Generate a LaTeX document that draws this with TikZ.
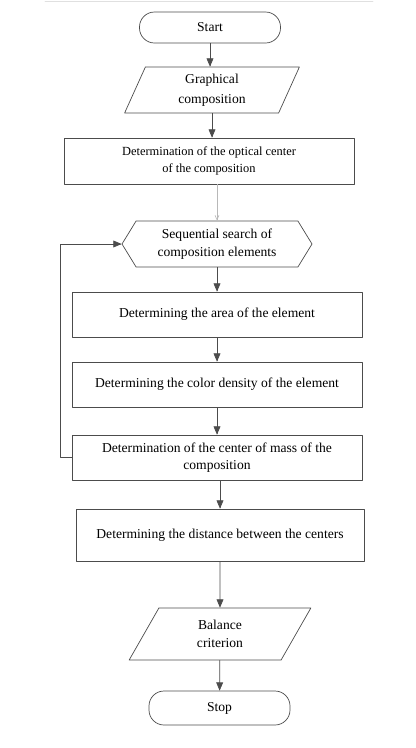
\documentclass[tikz,border=0pt]{standalone}
\usepackage{fontspec}
\setmainfont{Liberation Serif}
\usepackage{tikz}
\usetikzlibrary{calc}
\usetikzlibrary{arrows}
\usetikzlibrary{shapes.geometric,shapes.symbols}
\definecolor{wwwwww}{rgb}{0.3,0.3,0.3}
\definecolor{cccccc}{rgb}{0.72,0.72,0.72}
\definecolor{eeeeee}{rgb}{0.88,0.88,0.88}
\tikzstyle{every node}=[font=\fontsize{11.6}{15.5}\selectfont]
\tikzstyle{block}=[draw=wwwwww,line width=0.6pt,rectangle,align=center,inner sep=0pt]
\tikzstyle{term}=[block,rounded corners=0.45cm,minimum width=4.23cm]
\tikzstyle{io}=[block,trapezium,trapezium stretches=true]
\tikzstyle{loopsign}=[block,signal,signal to=west and east,signal pointer angle=117]
\tikzstyle{line}=[->,line width=0.6pt,color=wwwwww]

\begin{document}
\begin{tikzpicture}[line cap=round,line join=round,>=triangle 45,x=0.03cm,y=-0.03cm]
    \useasboundingbox (0,0) rectangle (416,748);
    \draw [color=eeeeee,line width=0.6pt] (45,1) -- (373,1);
    % terminators and data
    \node [term,minimum height=0.93cm] (start) at (210,27.5) {Start};
    \node [io,trapezium left angle=72,trapezium right angle=108,minimum width=5.28cm,minimum height=1.38cm,font=\fontsize{11.6}{17}\selectfont] (graph) at (212,90) {Graphical\\composition};
    \node [block,minimum width=8.7cm,minimum height=1.38cm,font=\fontsize{10.6}{15}\selectfont] (optic) at (209,161) {Determination of the optical center\\of the composition};
    \node [loopsign,minimum width=5.7cm,minimum height=1.38cm] (search) at (217,244) {Sequential search of\\composition elements};
    \node [block,minimum width=8.7cm,minimum height=1.35cm] (area) at (217,314.5) {Determining the area of the element};
    \node [block,minimum width=8.7cm,minimum height=1.35cm] (density) at (217,384.5) {Determining the color density of the element};
    \node [block,minimum width=8.7cm,minimum height=1.35cm,font=\fontsize{11.6}{14}\selectfont] (mass) at (217,457.5) {Determination of the center of mass of the\\composition};
    \node [block,minimum width=8.64cm,minimum height=1.56cm] (dist) at (220,535) {Determining the distance between the centers};
    \node [io,trapezium left angle=68,trapezium right angle=112,minimum width=5.46cm,minimum height=1.56cm] (crit) at (220,634) {Balance\\criterion};
    \node [term,minimum height=1.02cm] (stop) at (219.5,708) {Stop};
    % connectors
    \draw [line] (start.south) -- (start.south |- graph.north);
    \draw [line] (graph.south) -- (graph.south |- optic.north);
    \draw [->,>=angle 45,line width=0.5pt,color=cccccc] (search.north |- optic.south) -- (search.north);
    \draw [line] (search.south) -- (area.north);
    \draw [line] (area) -- (density);
    \draw [line] (density) -- (mass);
    \draw [line] (mass.west) -- ++(-11,0) |- (search.west);
    \draw [line] (mass.south -| dist.north) -- (dist.north);
    \draw [line] (dist) -- (crit);
    \draw [line] (crit) -- (stop);
\end{tikzpicture}
\end{document}
